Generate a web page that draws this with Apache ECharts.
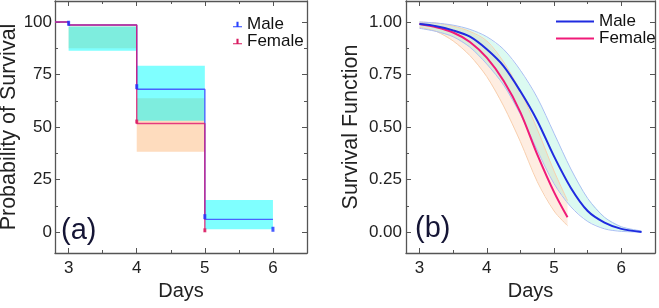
<!DOCTYPE html>
<html>
<head>
<meta charset="utf-8">
<title>Survival</title>
<style>
  html, body { margin: 0; padding: 0; background: #fff; }
  #main { width: 659px; height: 308px; }
</style>
</head>
<body>
<div id="main"></div>
<script src="https://cdn.jsdelivr.net/npm/echarts@6/dist/echarts.min.js"></script>
<script>
// (a) Kaplan-Meier steps
var kmDays = [2.8, 3, 4, 5, 6];
var kmMale = [100, 98.6, 68, 6, 6];
var kmDaysF = [2.8, 3, 4, 5];
var kmFemale = [100, 98.6, 51.7, 0];
var censorMaleX = [3, 4, 5, 6];
var censorMaleY = [99.4, 69.2, 7.3, 1.3];
var censorFemaleX = [4, 5];
var censorFemaleY = [52.6, 0.8];
// confidence bands, one per interval
var bandStart = [3, 4, 5];
var bandEnd = [4, 5, 6];
var maleLo = [86.3, 53, 1.3];
var maleHi = [97.8, 79.2, 15.2];
var femaleLo = [87.5, 38.2];
var femaleHi = [97.8, 63.7];

// (b) fitted survival function
var fitDays = [3, 3.25, 3.5, 3.75, 4, 4.25, 4.5, 4.75, 5, 5.25, 5.5, 5.75, 6, 6.3];
var fitMale = [0.99, 0.98, 0.96, 0.93, 0.87, 0.79, 0.67, 0.53, 0.36, 0.21, 0.10, 0.045, 0.015, 0];
var fitMaleLo = [0.97, 0.955, 0.93, 0.88, 0.80, 0.70, 0.56, 0.39, 0.23, 0.12, 0.05, 0.015, 0.003, 0];
var fitMaleHi = [1.0, 0.995, 0.985, 0.965, 0.93, 0.87, 0.77, 0.64, 0.47, 0.30, 0.16, 0.07, 0.025, 0.005];
var fitDaysF = [3, 3.25, 3.5, 3.75, 4, 4.25, 4.5, 4.75, 5, 5.2];
var fitFemale = [0.99, 0.975, 0.95, 0.905, 0.83, 0.72, 0.57, 0.37, 0.19, 0.07];
var fitFemaleLo = [0.975, 0.955, 0.91, 0.84, 0.74, 0.60, 0.43, 0.24, 0.10, 0.03];
var fitFemaleHi = [1.0, 0.995, 0.98, 0.955, 0.91, 0.81, 0.67, 0.49, 0.29, 0.15];

var ticksX = [3, 4, 5, 6];
var minorX = [3.5, 4.5, 5.5];
var ticksA = [0, 25, 50, 75, 100];
var minorA = [12.5, 37.5, 62.5, 87.5];
var ticksB = [0, 0.25, 0.5, 0.75, 1];
var minorB = [0.125, 0.375, 0.625, 0.875];

var FONT = 'Liberation Sans, Arial, sans-serif';
var BOX = '#555';

function zip(xs, ys) {
  return xs.map(function (x, i) { return [x, ys[i]]; });
}

// major + minor tick axes on a side and its opposite side (closed box)
function boxAxes(grid, min, max, major, minor, pos, other, extra) {
  var base = { type: 'value', gridIndex: grid, min: min, max: max, splitLine: { show: false } };
  var list = [];
  [pos, other].forEach(function (p, k) {
    list.push(Object.assign({}, base, {
      position: p,
      axisLine: { show: true, onZero: false, lineStyle: { color: BOX, width: 1.3 } },
      axisTick: { show: true, inside: true, length: 5, customValues: major, lineStyle: { color: BOX } },
      axisLabel: { show: false }
    }, k === 0 ? extra : {}));
    list.push(Object.assign({}, base, {
      position: p,
      axisLine: { show: false, onZero: false },
      axisTick: { show: true, inside: true, length: 3, customValues: minor, lineStyle: { color: BOX } },
      axisLabel: { show: false }
    }));
  });
  return list;
}

function xExtra() {
  return {
    axisLabel: { show: true, customValues: ticksX, margin: 7, fontSize: 17, color: '#222', fontFamily: FONT },
    name: 'Days', nameLocation: 'middle', nameGap: 27,
    nameTextStyle: { fontSize: 20, color: '#222', fontFamily: FONT }
  };
}

function yExtra(name, ticks, gap, fmt, margin) {
  return {
    axisLabel: { show: true, customValues: ticks, margin: margin, fontSize: 17, color: '#222', fontFamily: FONT, formatter: fmt },
    name: name, nameLocation: 'middle', nameGap: gap,
    nameTextStyle: { fontSize: 21.5, color: '#222', fontFamily: FONT }
  };
}

function bandRect(fill) {
  return function (params, api) {
    var p0 = api.coord([api.value(0), api.value(3)]);
    var p1 = api.coord([api.value(1), api.value(2)]);
    return {
      type: 'rect',
      shape: { x: p0[0], y: p0[1], width: p1[0] - p0[0], height: p1[1] - p0[1] },
      style: { fill: fill }
    };
  };
}

function bandPolygon(xs, lo, hi, fill) {
  return function (params, api) {
    var pts = [];
    for (var i = 0; i < xs.length; i++) pts.push(api.coord([xs[i], hi[i]]));
    for (var j = xs.length - 1; j >= 0; j--) pts.push(api.coord([xs[j], lo[j]]));
    return { type: 'polygon', shape: { points: pts }, style: { fill: fill } };
  };
}

function edge(name, xs, ys, color) {
  return {
    name: name, type: 'line', xAxisIndex: 4, yAxisIndex: 4, smooth: 0.3,
    data: zip(xs, ys), symbol: 'none', lineStyle: { width: 1, color: color }, z: 3
  };
}

var myChart = echarts.init(document.getElementById('main'));

var xAxes = boxAxes(0, 2.8, 6.5, ticksX, minorX, 'bottom', 'top', xExtra())
  .concat(boxAxes(1, 2.8, 6.5, ticksX, minorX, 'bottom', 'top', xExtra()));
var yAxes = boxAxes(0, -10, 110, ticksA, minorA, 'left', 'right',
    yExtra('Probability of Survival', ticksA, 34, function (v) { return String(v); }, 3))
  .concat(boxAxes(1, -0.1, 1.1, ticksB, minorB, 'left', 'right',
    yExtra('Survival Function', ticksB, 44, function (v) { return v.toFixed(2); }, 4)));

var legendA = 'path://M0,8h12v1.6H0z M4.6,2h2.8v6H4.6z';

myChart.setOption({
  animation: false,
  grid: [
    { left: 55, right: 352, top: 1, bottom: 55, outerBoundsMode: 'none' },
    { left: 406, right: 4, top: 1, bottom: 55, outerBoundsMode: 'none' }
  ],
  xAxis: xAxes,
  yAxis: yAxes,
  legend: [
    {
      orient: 'vertical', left: 233, top: 16, itemGap: 0, padding: 0,
      itemWidth: 9, itemHeight: 7,
      textStyle: { fontSize: 17, color: '#111', fontFamily: FONT },
      data: [
        { name: 'Male', icon: legendA, itemStyle: { color: '#2a44ff', borderWidth: 0 } },
        { name: 'Female', icon: legendA, itemStyle: { color: '#d81b60', borderWidth: 0 } }
      ]
    },
    {
      orient: 'vertical', left: 556, top: 13, itemGap: 0, padding: 0,
      itemWidth: 38, itemHeight: 2,
      textStyle: { fontSize: 17, color: '#111', fontFamily: FONT },
      data: [
        { name: 'Male', icon: 'rect', itemStyle: { color: '#1f2be0', borderWidth: 0 } },
        { name: 'Female', icon: 'rect', itemStyle: { color: '#f01a78', borderWidth: 0 } }
      ]
    }
  ],
  graphic: [
    { type: 'text', left: 61, top: 216, style: { text: '(a)', fontSize: 29, fill: '#151535', fontFamily: FONT } },
    { type: 'text', left: 415, top: 214, style: { text: '(b)', fontSize: 29, fill: '#151535', fontFamily: FONT } }
  ],
  series: [
    // panel (a)
    {
      name: 'Female CI', type: 'custom', xAxisIndex: 0, yAxisIndex: 0,
      renderItem: bandRect('rgba(253,185,125,0.5)'),
      data: femaleLo.map(function (v, i) { return [bandStart[i], bandEnd[i], v, femaleHi[i]]; }),
      z: 1
    },
    {
      name: 'Male CI', type: 'custom', xAxisIndex: 0, yAxisIndex: 0,
      renderItem: bandRect('rgba(0,255,255,0.5)'),
      data: maleLo.map(function (v, i) { return [bandStart[i], bandEnd[i], v, maleHi[i]]; }),
      z: 1
    },
    {
      name: 'Male', type: 'line', step: 'end', xAxisIndex: 0, yAxisIndex: 0,
      data: zip(kmDays, kmMale), symbol: 'none', color: '#4a63ff',
      lineStyle: { width: 1.4 }, z: 3
    },
    {
      name: 'Female', type: 'line', step: 'end', xAxisIndex: 0, yAxisIndex: 0,
      data: zip(kmDaysF, kmFemale), symbol: 'none', color: '#e0146e',
      lineStyle: { width: 1.4, opacity: 0.8 }, z: 4
    },
    {
      name: 'Male censored', type: 'scatter', xAxisIndex: 0, yAxisIndex: 0,
      data: zip(censorMaleX, censorMaleY), symbol: 'rect', symbolSize: [3, 5],
      itemStyle: { color: '#1a33ff' }, z: 5
    },
    {
      name: 'Female censored', type: 'scatter', xAxisIndex: 0, yAxisIndex: 0,
      data: zip(censorFemaleX, censorFemaleY), symbol: 'rect', symbolSize: [3, 4],
      itemStyle: { color: '#d81b60' }, z: 5
    },
    // panel (b)
    {
      name: 'Female band', type: 'custom', xAxisIndex: 4, yAxisIndex: 4,
      renderItem: bandPolygon(fitDaysF, fitFemaleLo, fitFemaleHi, 'rgba(250,185,135,0.25)'),
      data: [[fitDaysF[0], fitFemale[0]]], z: 1
    },
    {
      name: 'Male band', type: 'custom', xAxisIndex: 4, yAxisIndex: 4,
      renderItem: bandPolygon(fitDays, fitMaleLo, fitMaleHi, 'rgba(110,235,200,0.25)'),
      data: [[fitDays[0], fitMale[0]]], z: 2
    },
    edge('Female lo', fitDaysF, fitFemaleLo, '#f8cfae'),
    edge('Female hi', fitDaysF, fitFemaleHi, '#f8cfae'),
    edge('Male lo', fitDays, fitMaleLo, '#aabff3'),
    edge('Male hi', fitDays, fitMaleHi, '#aabff3'),
    {
      name: 'Female', type: 'line', xAxisIndex: 4, yAxisIndex: 4, smooth: 0.3,
      data: zip(fitDaysF, fitFemale), symbol: 'none', color: '#f01a78',
      lineStyle: { width: 2 }, z: 4
    },
    {
      name: 'Male', type: 'line', xAxisIndex: 4, yAxisIndex: 4, smooth: 0.3,
      data: zip(fitDays, fitMale), symbol: 'none', color: '#1f2be0',
      lineStyle: { width: 2 }, z: 4
    }
  ]
});
</script>
</body>
</html>
